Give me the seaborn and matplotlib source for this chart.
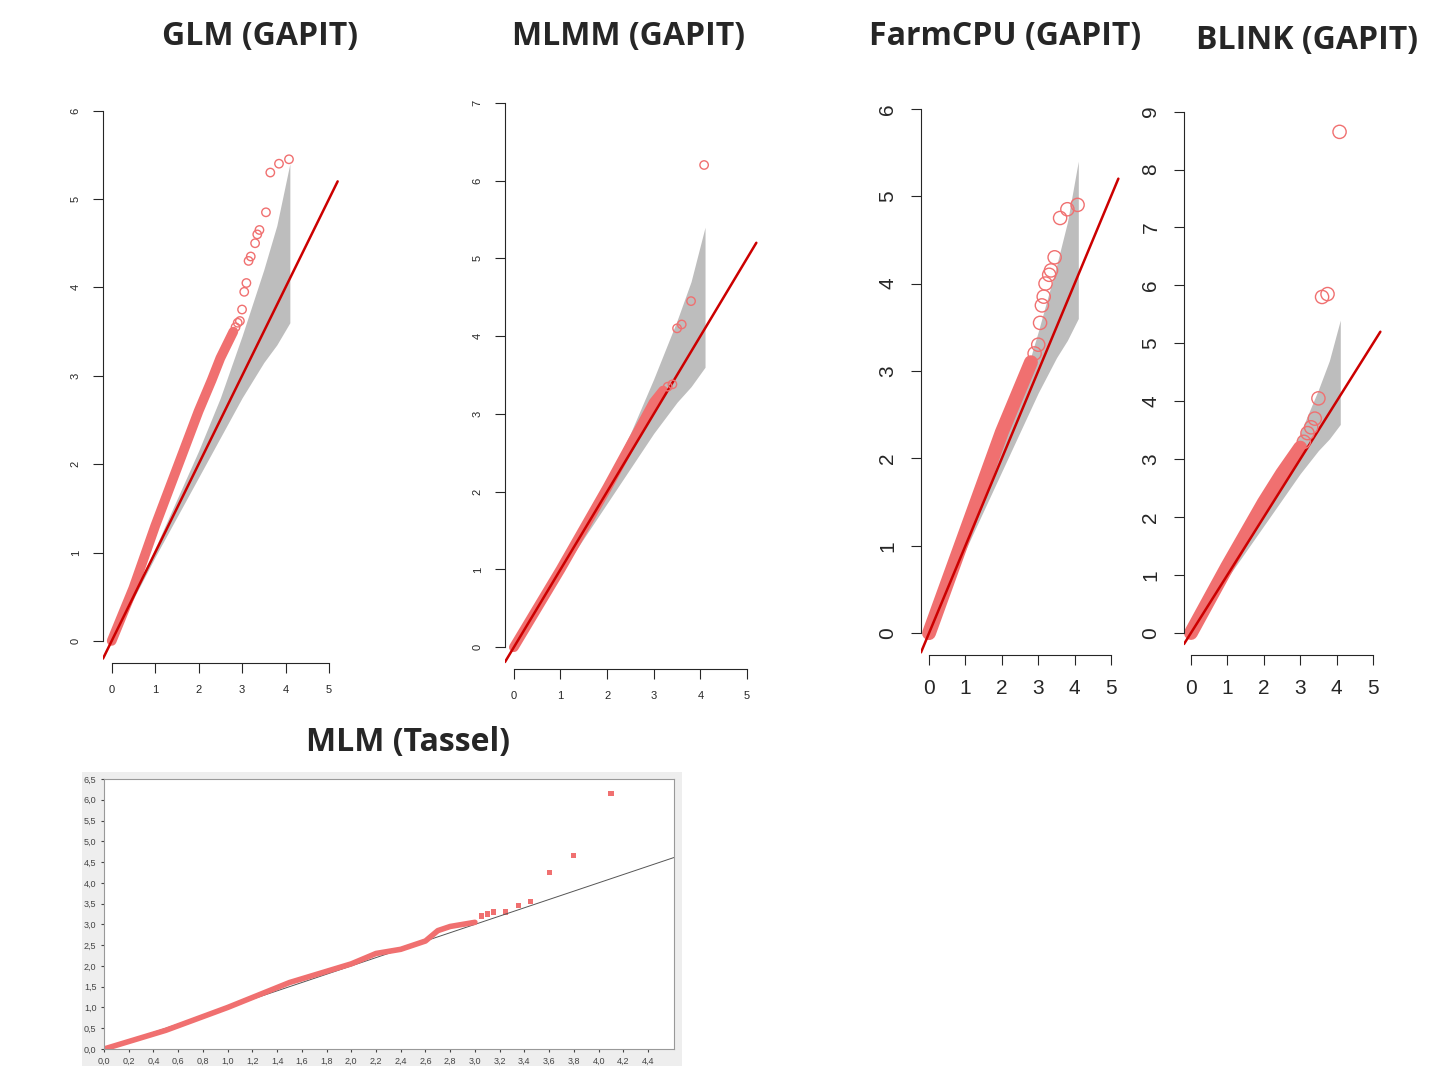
import numpy as np
import seaborn as sns
import matplotlib.pyplot as plt
from matplotlib.ticker import FuncFormatter

sns.set_style("white")
plt.rcParams['font.family'] = ['Liberation Sans', 'DejaVu Sans']

W, H = 1440, 1067
PT = "#f07070"
RED = "#cc0000"

# shared confidence band (expected -log10 p)
band_x = [0, 1, 2, 2.5, 3, 3.5, 3.8, 4.1]
band_hi = [0, 1.05, 2.15, 2.75, 3.45, 4.2, 4.7, 5.4]
band_lo = [0, 0.95, 1.85, 2.3, 2.75, 3.15, 3.35, 3.6]

glm_dense_x = [0, 0.5, 1, 1.5, 2, 2.3, 2.5, 2.8]
glm_dense_y = [0, 0.6, 1.3, 1.95, 2.6, 2.95, 3.2, 3.5]
glm_tail_x = [2.85, 2.9, 2.95, 3.0, 3.05, 3.1, 3.15, 3.2, 3.3, 3.35, 3.4, 3.55, 3.65, 3.85, 4.08]
glm_tail_y = [3.55, 3.6, 3.62, 3.75, 3.95, 4.05, 4.3, 4.35, 4.5, 4.6, 4.65, 4.85, 5.3, 5.4, 5.45]

mlmm_dense_x = [0, 1, 2, 2.5, 3, 3.2]
mlmm_dense_y = [0, 1, 2.05, 2.6, 3.15, 3.3]
mlmm_tail_x = [3.3, 3.4, 3.5, 3.6, 3.8, 4.08]
mlmm_tail_y = [3.35, 3.38, 4.1, 4.15, 4.45, 6.2]

farm_dense_x = [0, 1, 2, 2.5, 2.8]
farm_dense_y = [0, 1.15, 2.3, 2.8, 3.1]
farm_tail_x = [2.9, 3.0, 3.05, 3.1, 3.15, 3.2, 3.3, 3.35, 3.45, 3.6, 3.8, 4.08]
farm_tail_y = [3.2, 3.3, 3.55, 3.75, 3.85, 4.0, 4.1, 4.15, 4.3, 4.75, 4.85, 4.9]

blink_dense_x = [0, 1, 2, 2.5, 3]
blink_dense_y = [0, 1.15, 2.25, 2.75, 3.2]
blink_tail_x = [3.1, 3.2, 3.3, 3.4, 3.5, 3.6, 3.75, 4.08]
blink_tail_y = [3.3, 3.45, 3.55, 3.7, 4.05, 5.8, 5.85, 8.65]

tassel_dense_x = [0, 0.5, 1, 1.5, 2, 2.2, 2.4, 2.6, 2.7, 2.8, 3.0]
tassel_dense_y = [0, 0.45, 1, 1.6, 2.05, 2.3, 2.4, 2.6, 2.85, 2.95, 3.05]
tassel_tail_x = [3.05, 3.1, 3.15, 3.25, 3.35, 3.45, 3.6, 3.8, 4.1]
tassel_tail_y = [3.2, 3.25, 3.3, 3.3, 3.45, 3.55, 4.25, 4.65, 6.15]

fig = plt.figure(figsize=(W / 100, H / 100), dpi=100)


def px_axes(x0, x1, y_top, y_bot):
    return fig.add_axes([x0 / W, 1 - y_bot / H, (x1 - x0) / W, (y_bot - y_top) / H])


def gapit(box, xlim, ylim, ymax_tick, dx, dy, tx, ty, ms, lw, fs, pad, title, tpos):
    ax = px_axes(*box)
    ax.fill_between(band_x, band_lo, band_hi, color="#bdbdbd", lw=0, zorder=1)
    ax.plot(dx, dy, color=PT, lw=lw, solid_capstyle="round", zorder=2)
    ax.plot([xlim[0], 5.2], [xlim[0], 5.2], color=RED, lw=1.8, zorder=3)
    sns.scatterplot(x=tx, y=ty, ax=ax, marker="o", s=ms ** 2 * 3, facecolor="none",
                    edgecolor=PT, linewidth=1.0, zorder=4, legend=False)
    ax.set_xlim(*xlim)
    ax.set_ylim(*ylim)
    for s in ["top", "right"]:
        ax.spines[s].set_visible(False)
    ax.spines["left"].set_bounds(0, ymax_tick)
    ax.spines["bottom"].set_bounds(0, 5)
    ax.set_xticks(range(6))
    ax.set_yticks(range(ymax_tick + 1))
    ax.tick_params(direction="out", length=7, labelsize=fs, left=True, bottom=True, pad=pad)
    for t in ax.get_yticklabels():
        t.set_rotation(90)
        t.set_va("center")
    ax.patch.set_alpha(0)
    fig.text(tpos[0] / W, 1 - tpos[1] / H, title, fontsize=23, fontweight="bold",
             family=["Open Sans", "DejaVu Sans"], ha="center", va="center")


gapit((103, 342, 93, 663), (-0.2, 5.3), (-0.25, 6.2), 6, glm_dense_x, glm_dense_y,
      glm_tail_x, glm_tail_y, 3.5, 7, 8, 9, "GLM (GAPIT)", (260, 37))
gapit((505, 761, 95, 669), (-0.19, 5.3), (-0.28, 7.1), 7, mlmm_dense_x, mlmm_dense_y,
      mlmm_tail_x, mlmm_tail_y, 3.5, 7, 8, 9, "MLMM (GAPIT)", (628, 37))
gapit((921, 1122, 100, 655), (-0.22, 5.3), (-0.25, 6.1), 6, farm_dense_x, farm_dense_y,
      farm_tail_x, farm_tail_y, 5.5, 10, 15, 10, "FarmCPU (GAPIT)", (1005, 37))
gapit((1184, 1384, 100, 655), (-0.19, 5.3), (-0.38, 9.2), 9, blink_dense_x, blink_dense_y,
      blink_tail_x, blink_tail_y, 5.5, 10, 15, 10, "BLINK (GAPIT)", (1307, 40))

# Tassel panel
bg = px_axes(82, 682, 772, 1066)
bg.set_facecolor("#eeeeee")
bg.set_xticks([])
bg.set_yticks([])
for s in bg.spines.values():
    s.set_visible(False)
ax = px_axes(104, 674, 779, 1049)
ax.set_xlim(0, 4.61)
ax.set_ylim(0, 6.5)
ax.plot([0, 4.61], [0, 4.61], color="#555555", lw=0.7)
ax.plot(tassel_dense_x, tassel_dense_y, color=PT, lw=4)
sns.scatterplot(x=tassel_tail_x, y=tassel_tail_y, ax=ax, marker="s", s=14, color=PT,
                edgecolor="none", legend=False)
ax.set_xticks(np.arange(0, 4.5, 0.2))
ax.set_yticks(np.arange(0, 6.6, 0.5))
comma = FuncFormatter(lambda v, p: f"{v:.1f}".replace(".", ","))
ax.xaxis.set_major_formatter(comma)
ax.yaxis.set_major_formatter(comma)
ax.tick_params(labelsize=6.5, length=2, left=True, bottom=True, colors="#444444")
for s in ax.spines.values():
    s.set_color("#999999")
    s.set_linewidth(0.8)
fig.text(408 / W, 1 - 743 / H, "MLM (Tassel)", fontsize=23, fontweight="bold",
         family=["Open Sans", "DejaVu Sans"], ha="center", va="center")

fig.savefig("out.png", dpi=100)
